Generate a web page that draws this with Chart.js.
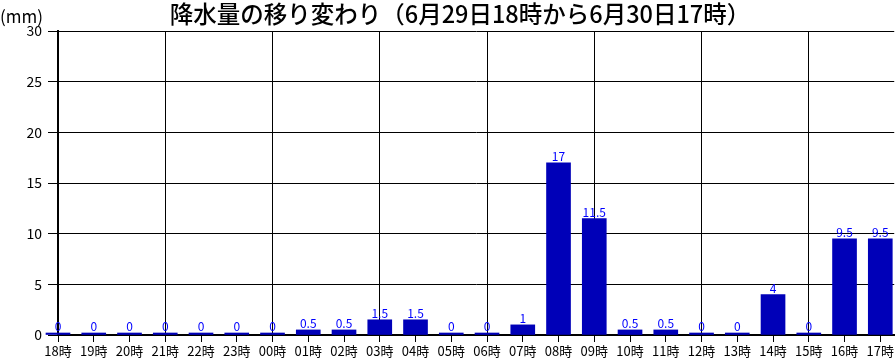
<!DOCTYPE html>
<html>
<head>
<meta charset="utf-8">
<script src="https://cdn.jsdelivr.net/npm/chart.js@4"></script>
<style>
  html, body { margin: 0; padding: 0; background: #fff; }
  #wrap { width: 895px; height: 359px; }
</style>
</head>
<body>
<div id="wrap"><canvas id="myChart" width="895" height="359"></canvas></div>
<script>
const hours = ['18時', '19時', '20時', '21時', '22時', '23時', '00時', '01時', '02時', '03時', '04時', '05時',
               '06時', '07時', '08時', '09時', '10時', '11時', '12時', '13時', '14時', '15時', '16時', '17時'];
const rain = [0, 0, 0, 0, 0, 0, 0, 0.5, 0.5, 1.5, 1.5, 0, 0, 1, 17, 11.5, 0.5, 0.5, 0, 0, 4, 0, 9.5, 9.5];
const yTicks = [0, 5, 10, 15, 20, 25, 30];
const titleText = '降水量の移り変わり（6月29日18時から6月30日17時）';
const unitText = '(mm)';

const FONT = '"Noto Sans CJK JP", "DejaVu Sans", sans-serif';

// title, unit and the value labels over the bars
const textPlugin = {
    id: 'texts',
    afterDatasetsDraw(chart) {
        const c = chart.ctx;
        c.save();
        c.fillStyle = '#000';
        c.textBaseline = 'middle';
        c.textAlign = 'center';
        c.font = '500 23.5px ' + FONT;
        c.fillText(titleText, 460, 14);
        c.textAlign = 'left';
        c.font = '17px ' + FONT;
        c.fillText(unitText, 0, 17);

        c.fillStyle = '#0000ff';
        c.font = '12px ' + FONT;
        c.textAlign = 'center';
        c.textBaseline = 'bottom';
        const meta = chart.getDatasetMeta(0);
        meta.data.forEach((bar, i) => {
            c.fillText(String(rain[i]), bar.x, Math.min(bar.y, bar.base - 2));
        });
        c.restore();
    }
};

const ctx = document.getElementById('myChart').getContext('2d');
const myChart = new Chart(ctx, {
    type: 'bar',
    data: {
        datasets: [{
            data: rain.map((v, i) => ({ x: i, y: v })),
            backgroundColor: '#0000b8',
            borderWidth: 0,
            barThickness: 24,
            minBarLength: 2,
            clip: false
        }]
    },
    options: {
        responsive: false,
        animation: false,
        layout: { padding: { top: 31, right: 0, left: 0, bottom: 0 } },
        plugins: {
            legend: { display: false },
            tooltip: { enabled: false }
        },
        scales: {
            x: {
                type: 'linear',
                offset: false,
                min: 0,
                max: 23.39,
                afterBuildTicks(scale) {
                    scale.ticks = hours.map((h, i) => ({ value: i }));
                },
                afterFit(scale) { scale.height = 24; },
                border: { color: '#000', width: 2 },
                grid: {
                    offset: false,
                    color: c => (c.tick && c.tick.value % 3 === 0) ? '#000' : 'rgba(0,0,0,0)',
                    tickColor: '#000',
                    tickLength: 7,
                    lineWidth: 1
                },
                ticks: {
                    autoSkip: false,
                    maxRotation: 0,
                    padding: 1,
                    color: '#000',
                    font: { family: FONT, size: 13 },
                    callback: v => hours[v]
                }
            },
            y: {
                min: 0,
                max: 30,
                afterBuildTicks(scale) {
                    scale.ticks = yTicks.map(v => ({ value: v }));
                },
                afterFit(scale) { scale.width = 58; },
                border: { color: '#000', width: 2 },
                grid: {
                    color: '#000',
                    tickColor: '#000',
                    tickLength: 10,
                    lineWidth: 1
                },
                ticks: {
                    padding: 6,
                    color: '#000',
                    font: { family: FONT, size: 14 }
                }
            }
        }
    },
    plugins: [textPlugin]
});
</script>
</body>
</html>
